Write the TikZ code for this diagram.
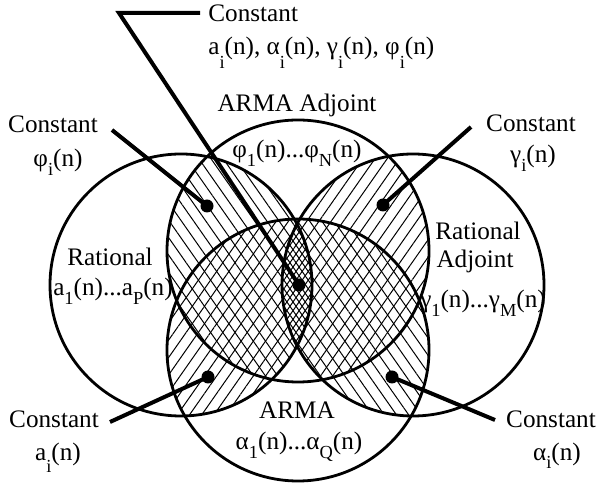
\documentclass[tikz,border=0pt]{standalone}
\usepackage{fontspec}
\setmainfont{Liberation Serif}
\usepackage{tikz}
\usetikzlibrary{positioning, patterns.meta}

% lowered index, as the figure sets it
\newcommand{\lowsub}[2][0.35em]{\raisebox{-#1}{\fontsize{9.2}{9}\selectfont #2}}

% the four classes
\def\setRat{(181,285) circle (131)}
\def\setRatAdj{(413,285) circle (131)}
\def\setArmaAdj{(298,251) circle (131)}
\def\setArma{(298,350) circle (131)}

\begin{document}
\begin{tikzpicture}[x=0.5pt, y=-0.5pt,
    ring/.style={line width=1.4pt},
    leader/.style={line width=2pt},
    blob/.style={circle, fill, inner sep=0pt, minimum size=6.5pt},
    lbl/.style={anchor=base, inner sep=1pt, font=\fontsize{12.6}{14}\selectfont},
    hatchA/.style={pattern={Lines[angle=55, distance=5pt, line width=0.5pt]}},
    hatchB/.style={pattern={Lines[angle=-55, distance=5pt, line width=0.5pt]}},
    hatchAs/.style={pattern={Lines[angle=55, distance=5pt, yshift=4.36pt, line width=0.5pt]}},
    hatchBs/.style={pattern={Lines[angle=-55, distance=5pt, yshift=4.36pt, line width=0.5pt]}}
]
\useasboundingbox (0,0) rectangle (599,485);

% hatched overlaps
\begin{scope}
  \clip \setArmaAdj;
  \fill[hatchB] \setRat;
  \fill[hatchA] \setRatAdj;
\end{scope}
\begin{scope}
  \clip \setArma;
  \fill[hatchAs] \setRat;
  \fill[hatchBs] \setRatAdj;
\end{scope}

\draw[ring] \setRat;
\draw[ring] \setRatAdj;
\draw[ring] \setArmaAdj;
\draw[ring] \setArma;

% class names
\node[lbl] (adj) at (297,112) {ARMA Adjoint};
\node[lbl] (phiN) at (297,158) {φ\lowsub{1}(n)...φ\lowsub{N}(n)};
\node[lbl] (rat) at (110,266) {Rational};
\node[lbl] (aP) at (113,296) {a\lowsub{1}(n)...a\lowsub{P}(n)};
\node[lbl] (ratA) at (478,240) {Rational};
\node[lbl] (ratB) at (475,268) {Adjoint};
\node[lbl] (gM) at (483,308) {γ\lowsub{1}(n)...γ\lowsub{M}(n)};
\node[lbl] (arma) at (297,419) {ARMA};
\node[lbl] (aQ) at (299,450) {α\lowsub{1}(n)...α\lowsub{Q}(n)};

% constant cases
\node[lbl, anchor=base west] (cTop) at (206,22) {Constant};
\node[lbl, anchor=base west] (vTop) at (206,55) {a\lowsub[0.55em]{i}(n), α\lowsub[0.55em]{i}(n), γ\lowsub[0.55em]{i}(n), φ\lowsub[0.55em]{i}(n)};
\node[lbl] (cUL) at (53,133) {Constant};
\node[lbl] (vUL) at (58,167) {φ\lowsub{i}(n)};
\node[lbl] (cUR) at (531,132) {Constant};
\node[lbl] (vUR) at (533,163) {γ\lowsub{i}(n)};
\node[lbl] (cLL) at (54,428) {Constant};
\node[lbl] (vLL) at (58,460) {a\lowsub[0.5em]{i}(n)};
\node[lbl] (cLR) at (551,428) {Constant};
\node[lbl] (vLR) at (557,460) {α\lowsub{i}(n)};

% dots
\node[blob] (dUL) at (207,206) {};
\node[blob] (dUR) at (383,205) {};
\node[blob] (dMid) at (299,285) {};
\node[blob] (dLL) at (208,377) {};
\node[blob] (dLR) at (392,377) {};

% leaders
\coordinate (tTop) at (200,13);
\coordinate (bend) at (119,13);
\coordinate (tUL) at (112,130);
\coordinate (tUR) at (471,127);
\coordinate (tLL) at (110,422);
\coordinate (tLR) at (495,420);
\draw[leader] (tTop) -- (bend) -- (dMid.center);
\draw[leader] (tUL) -- (dUL.center);
\draw[leader] (tUR) -- (dUR.center);
\draw[leader] (tLL) -- (dLL.center);
\draw[leader] (tLR) -- (dLR.center);
\end{tikzpicture}
\end{document}
